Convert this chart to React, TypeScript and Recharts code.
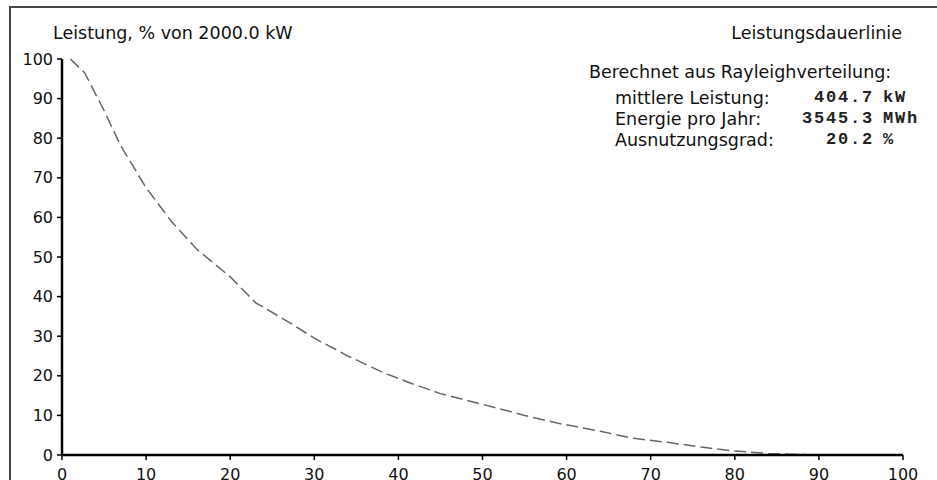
import { LineChart, Line, XAxis, YAxis } from "recharts";

// Leistungsdauerlinie (power duration curve)
const zeitAnteil = [1, 2.7, 5, 7, 10, 13, 16, 20, 23, 27, 30, 34, 38, 41, 45, 50, 55, 59, 64, 68, 72, 76, 80, 84, 88, 90, 95, 100];
const leistung = [100, 96.5, 87, 78, 67.5, 59, 52, 45, 38.5, 33.5, 29.5, 25, 21, 18.5, 15.5, 12.8, 10, 8, 6, 4.2, 3.2, 2, 1, 0.4, 0.1, 0, 0, 0];

const xTicks = [0, 10, 20, 30, 40, 50, 60, 70, 80, 90, 100];
const yTicks = [0, 10, 20, 30, 40, 50, 60, 70, 80, 90, 100];

const statLabels = ["mittlere Leistung:", "Energie pro Jahr:", "Ausnutzungsgrad:"];
const statValues = ["404.7", "3545.3", "20.2"];
const statUnits = ["kW", "MWh", "%"];

const data = zeitAnteil.map((x, i) => ({ x, p: leistung[i] }));

const SANS = '"DejaVu Sans", sans-serif';
const MONO = '"Liberation Mono", "DejaVu Sans Mono", monospace';
const tickStyle = { fontSize: 16, fill: "#111", fontFamily: SANS };
const statTops = [87, 108, 129];

export default function App() {
  return (
    <div style={{ position: "fixed", left: 0, top: 0, width: 937, height: 480, background: "#fff", overflow: "hidden" }}>
      <div
        style={{
          position: "absolute",
          left: 9,
          top: 6,
          width: 940,
          height: 480,
          borderTop: "2px solid #444",
          borderLeft: "2px solid #444",
        }}
      />
      <LineChart width={937} height={480} data={data} margin={{ top: 59, right: 34, bottom: 0, left: 10 }}>
        <XAxis
          type="number"
          dataKey="x"
          domain={[0, 100]}
          ticks={xTicks}
          height={25}
          tick={tickStyle}
          tickSize={5}
          tickMargin={9}
          axisLine={{ stroke: "#000", strokeWidth: 2.5 }}
          tickLine={{ stroke: "#000", strokeWidth: 1.5 }}
        />
        <YAxis
          type="number"
          domain={[0, 100]}
          ticks={yTicks}
          width={52}
          tick={tickStyle}
          tickSize={5}
          tickMargin={4}
          axisLine={{ stroke: "#000", strokeWidth: 2.5 }}
          tickLine={{ stroke: "#000", strokeWidth: 1.5 }}
        />
        <Line
          type="linear"
          dataKey="p"
          stroke="#666"
          strokeWidth={1.5}
          strokeDasharray="12 5"
          dot={false}
          isAnimationActive={false}
        />
      </LineChart>
      <div style={{ position: "absolute", left: 53, top: 22, fontFamily: SANS, fontSize: 17.5, lineHeight: "22px", color: "#111", whiteSpace: "nowrap" }}>
        Leistung, % von 2000.0 kW
      </div>
      <div style={{ position: "absolute", right: 35, top: 22, fontFamily: SANS, fontSize: 17.5, lineHeight: "22px", color: "#111", whiteSpace: "nowrap" }}>
        Leistungsdauerlinie
      </div>
      <div style={{ position: "absolute", left: 589, top: 61, fontFamily: SANS, fontSize: 17.5, lineHeight: "22px", color: "#111", whiteSpace: "nowrap" }}>
        Berechnet aus Rayleighverteilung:
      </div>
      {statLabels.map((label, i) => (
        <div key={label}>
          <div style={{ position: "absolute", left: 615, top: statTops[i], fontFamily: SANS, fontSize: 17.5, lineHeight: "22px", color: "#111", whiteSpace: "nowrap" }}>
            {label}
          </div>
          <div style={{ position: "absolute", right: 63, top: statTops[i], fontFamily: MONO, fontWeight: 700, fontSize: 17, letterSpacing: 1.8, lineHeight: "22px", color: "#222", whiteSpace: "nowrap" }}>
            {statValues[i]}
          </div>
          <div style={{ position: "absolute", left: 883, top: statTops[i], fontFamily: MONO, fontWeight: 700, fontSize: 17, letterSpacing: 1.8, lineHeight: "22px", color: "#222", whiteSpace: "nowrap" }}>
            {statUnits[i]}
          </div>
        </div>
      ))}
    </div>
  );
}
